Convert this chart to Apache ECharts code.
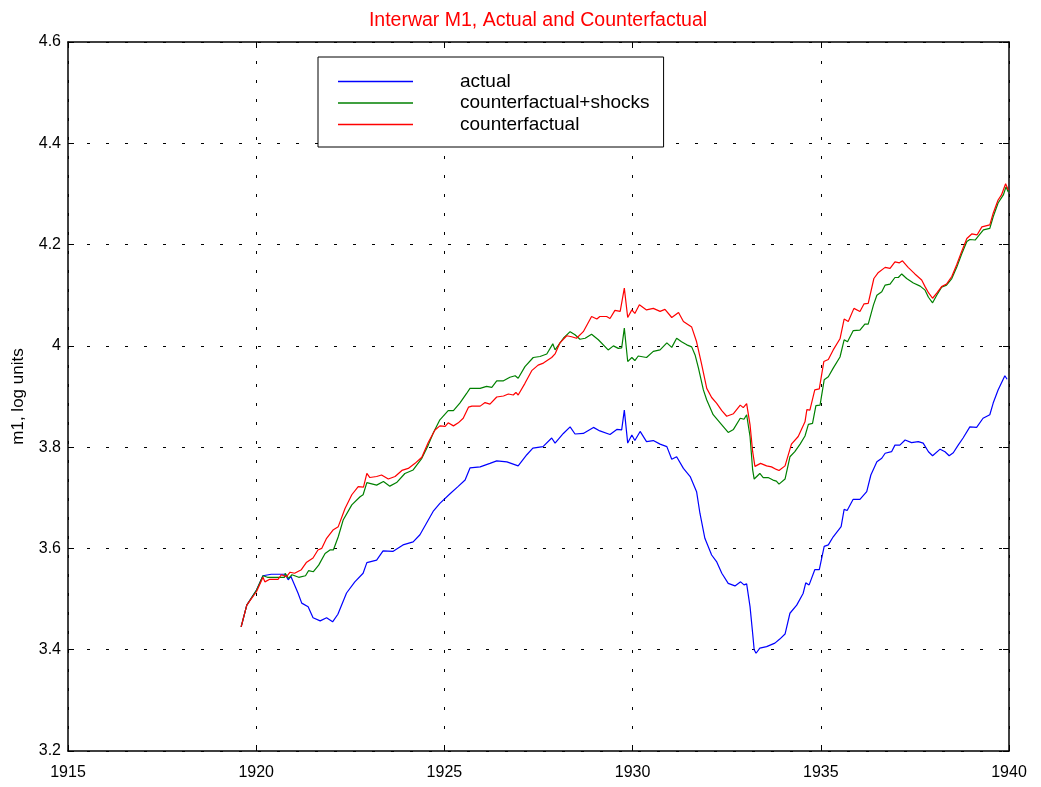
<!DOCTYPE html>
<html>
<head>
<meta charset="utf-8">
<title>Interwar M1</title>
<script src="https://cdn.jsdelivr.net/npm/echarts@6/dist/echarts.min.js"></script>
<style>
  html, body { margin: 0; padding: 0; background: #fff; }
  #chart { width: 1041px; height: 787px; }
</style>
</head>
<body>
<div id="chart"></div>
<script>
// values, [year, log m1]
var actual = [
	[1919.60, 3.445], [1919.75, 3.488], [1920.01, 3.518], [1920.18, 3.546], [1920.40, 3.549], [1920.77, 3.549],
	[1920.85, 3.538], [1920.92, 3.545], [1921.11, 3.512], [1921.21, 3.492], [1921.38, 3.485], [1921.51, 3.463],
	[1921.70, 3.457], [1921.87, 3.463], [1922.03, 3.455], [1922.17, 3.470], [1922.40, 3.512], [1922.62, 3.534],
	[1922.84, 3.551], [1922.94, 3.572], [1923.20, 3.577], [1923.37, 3.595], [1923.63, 3.594], [1923.90, 3.607],
	[1924.17, 3.613], [1924.35, 3.627], [1924.70, 3.673], [1924.88, 3.689], [1925.15, 3.708], [1925.36, 3.722],
	[1925.55, 3.735], [1925.68, 3.759], [1925.95, 3.761], [1926.21, 3.768], [1926.39, 3.773], [1926.66, 3.771],
	[1926.96, 3.763], [1927.19, 3.785], [1927.35, 3.798], [1927.62, 3.801], [1927.85, 3.818], [1927.94, 3.808],
	[1928.16, 3.827], [1928.34, 3.840], [1928.47, 3.826], [1928.69, 3.827], [1928.96, 3.839], [1929.13, 3.832],
	[1929.40, 3.825], [1929.58, 3.835], [1929.71, 3.834], [1929.78, 3.873], [1929.87, 3.808], [1929.98, 3.824],
	[1930.06, 3.813], [1930.20, 3.831], [1930.37, 3.811], [1930.55, 3.813], [1930.73, 3.806], [1930.91, 3.801],
	[1931.04, 3.776], [1931.17, 3.781], [1931.35, 3.758], [1931.53, 3.742], [1931.70, 3.712], [1931.79, 3.669],
	[1931.92, 3.620], [1932.10, 3.587], [1932.23, 3.574], [1932.37, 3.551], [1932.54, 3.531], [1932.72, 3.526],
	[1932.87, 3.534], [1932.96, 3.528], [1933.03, 3.530], [1933.12, 3.485], [1933.19, 3.432], [1933.23, 3.400],
	[1933.28, 3.393], [1933.38, 3.403], [1933.56, 3.406], [1933.78, 3.413], [1933.91, 3.421], [1934.05, 3.431],
	[1934.18, 3.472], [1934.36, 3.488], [1934.53, 3.511], [1934.60, 3.532], [1934.69, 3.528], [1934.84, 3.558],
	[1934.96, 3.558], [1935.09, 3.604], [1935.20, 3.607], [1935.33, 3.623], [1935.54, 3.643], [1935.62, 3.677],
	[1935.70, 3.675], [1935.86, 3.697], [1936.04, 3.697], [1936.22, 3.712], [1936.33, 3.745], [1936.49, 3.771],
	[1936.62, 3.778], [1936.71, 3.788], [1936.88, 3.791], [1936.97, 3.804], [1937.10, 3.804], [1937.24, 3.814],
	[1937.41, 3.809], [1937.59, 3.811], [1937.72, 3.808], [1937.86, 3.791], [1937.97, 3.783], [1938.17, 3.796],
	[1938.30, 3.791], [1938.41, 3.783], [1938.52, 3.789], [1938.65, 3.804], [1938.78, 3.818], [1938.96, 3.840],
	[1939.14, 3.839], [1939.31, 3.857], [1939.49, 3.864], [1939.58, 3.887], [1939.71, 3.913], [1939.89, 3.941],
	[1939.95, 3.934]
];

var cfShocks = [
	[1919.60, 3.445], [1919.75, 3.488], [1920.01, 3.518], [1920.18, 3.546], [1920.30, 3.543], [1920.75, 3.543],
	[1920.77, 3.551], [1920.86, 3.541], [1920.95, 3.548], [1921.13, 3.543], [1921.31, 3.546], [1921.39, 3.556],
	[1921.52, 3.554], [1921.66, 3.567], [1921.83, 3.590], [1921.96, 3.597], [1922.05, 3.597], [1922.18, 3.623],
	[1922.31, 3.656], [1922.54, 3.686], [1922.76, 3.702], [1922.84, 3.706], [1922.94, 3.730], [1923.20, 3.725],
	[1923.38, 3.732], [1923.55, 3.723], [1923.73, 3.730], [1923.95, 3.748], [1924.17, 3.755], [1924.40, 3.778],
	[1924.57, 3.804], [1924.71, 3.829], [1924.88, 3.854], [1925.10, 3.872], [1925.24, 3.872], [1925.41, 3.887],
	[1925.59, 3.906], [1925.68, 3.916], [1925.95, 3.916], [1926.12, 3.920], [1926.26, 3.918], [1926.39, 3.931],
	[1926.57, 3.931], [1926.74, 3.938], [1926.88, 3.941], [1926.96, 3.936], [1927.14, 3.959], [1927.36, 3.977],
	[1927.54, 3.979], [1927.72, 3.984], [1927.88, 4.004], [1927.94, 3.992], [1928.16, 4.015], [1928.34, 4.028],
	[1928.47, 4.022], [1928.60, 4.013], [1928.74, 4.015], [1928.91, 4.023], [1929.09, 4.012], [1929.35, 3.992],
	[1929.49, 4.000], [1929.62, 3.995], [1929.71, 3.996], [1929.78, 4.035], [1929.87, 3.969], [1929.98, 3.977],
	[1930.06, 3.971], [1930.15, 3.980], [1930.37, 3.977], [1930.55, 3.989], [1930.73, 3.992], [1930.91, 4.006],
	[1931.04, 3.997], [1931.17, 4.015], [1931.30, 4.008], [1931.44, 4.002], [1931.57, 3.998], [1931.66, 3.982],
	[1931.75, 3.956], [1931.88, 3.913], [1931.97, 3.893], [1932.14, 3.864], [1932.37, 3.844], [1932.54, 3.829],
	[1932.68, 3.835], [1932.86, 3.857], [1932.96, 3.855], [1933.03, 3.864], [1933.12, 3.821], [1933.19, 3.755],
	[1933.23, 3.737], [1933.28, 3.734], [1933.38, 3.748], [1933.47, 3.740], [1933.60, 3.740], [1933.73, 3.735],
	[1933.82, 3.733], [1933.89, 3.727], [1934.05, 3.737], [1934.18, 3.781], [1934.31, 3.791], [1934.45, 3.806],
	[1934.58, 3.822], [1934.67, 3.845], [1934.78, 3.847], [1934.87, 3.882], [1934.98, 3.883], [1935.09, 3.933],
	[1935.20, 3.939], [1935.33, 3.956], [1935.51, 3.978], [1935.62, 4.012], [1935.71, 4.008], [1935.86, 4.030],
	[1936.04, 4.031], [1936.17, 4.043], [1936.26, 4.043], [1936.40, 4.081], [1936.49, 4.100], [1936.62, 4.107],
	[1936.71, 4.120], [1936.84, 4.122], [1936.97, 4.135], [1937.06, 4.135], [1937.15, 4.142], [1937.28, 4.133],
	[1937.46, 4.124], [1937.64, 4.118], [1937.77, 4.110], [1937.86, 4.096], [1937.97, 4.085], [1938.08, 4.100],
	[1938.21, 4.116], [1938.34, 4.120], [1938.48, 4.133], [1938.61, 4.155], [1938.74, 4.181], [1938.88, 4.206],
	[1938.96, 4.210], [1939.10, 4.209], [1939.19, 4.217], [1939.32, 4.229], [1939.49, 4.232], [1939.58, 4.255],
	[1939.71, 4.282], [1939.85, 4.298], [1939.92, 4.314], [1939.98, 4.304]
];

var cf = [
	[1919.60, 3.445], [1919.75, 3.488], [1920.01, 3.515], [1920.18, 3.543], [1920.23, 3.534], [1920.36, 3.539],
	[1920.58, 3.539], [1920.67, 3.548], [1920.80, 3.544], [1920.90, 3.553], [1921.02, 3.551], [1921.20, 3.558],
	[1921.33, 3.572], [1921.51, 3.581], [1921.64, 3.597], [1921.74, 3.600], [1921.87, 3.620], [1922.05, 3.637],
	[1922.18, 3.643], [1922.36, 3.679], [1922.54, 3.706], [1922.71, 3.722], [1922.85, 3.721], [1922.94, 3.748],
	[1923.02, 3.740], [1923.20, 3.742], [1923.33, 3.745], [1923.51, 3.737], [1923.69, 3.742], [1923.87, 3.754],
	[1924.04, 3.758], [1924.22, 3.768], [1924.40, 3.780], [1924.57, 3.809], [1924.75, 3.834], [1924.88, 3.842],
	[1925.02, 3.841], [1925.10, 3.848], [1925.24, 3.842], [1925.37, 3.848], [1925.50, 3.857], [1925.64, 3.879],
	[1925.73, 3.881], [1925.95, 3.881], [1926.08, 3.888], [1926.21, 3.885], [1926.39, 3.899], [1926.57, 3.901],
	[1926.70, 3.905], [1926.83, 3.903], [1926.90, 3.908], [1926.96, 3.903], [1927.14, 3.926], [1927.32, 3.951],
	[1927.49, 3.962], [1927.63, 3.966], [1927.85, 3.977], [1927.94, 3.984], [1928.07, 4.006], [1928.25, 4.020],
	[1928.38, 4.018], [1928.51, 4.015], [1928.69, 4.028], [1928.91, 4.058], [1929.05, 4.053], [1929.13, 4.058],
	[1929.31, 4.058], [1929.40, 4.054], [1929.53, 4.070], [1929.67, 4.068], [1929.78, 4.114], [1929.87, 4.056],
	[1929.98, 4.071], [1930.06, 4.064], [1930.18, 4.081], [1930.37, 4.071], [1930.55, 4.074], [1930.73, 4.068],
	[1930.86, 4.072], [1931.04, 4.056], [1931.22, 4.066], [1931.35, 4.048], [1931.57, 4.037], [1931.70, 4.008],
	[1931.83, 3.965], [1931.97, 3.916], [1932.10, 3.898], [1932.23, 3.887], [1932.37, 3.872], [1932.50, 3.861],
	[1932.68, 3.866], [1932.86, 3.883], [1932.94, 3.878], [1933.03, 3.886], [1933.12, 3.844], [1933.19, 3.791],
	[1933.25, 3.762], [1933.30, 3.760], [1933.40, 3.768], [1933.56, 3.763], [1933.69, 3.761], [1933.82, 3.756],
	[1933.89, 3.754], [1934.05, 3.763], [1934.22, 3.806], [1934.40, 3.821], [1934.58, 3.850], [1934.63, 3.874],
	[1934.71, 3.873], [1934.84, 3.913], [1934.96, 3.915], [1935.08, 3.969], [1935.20, 3.973], [1935.33, 3.992],
	[1935.51, 4.014], [1935.62, 4.053], [1935.73, 4.048], [1935.88, 4.074], [1936.04, 4.068], [1936.15, 4.083],
	[1936.26, 4.084], [1936.41, 4.133], [1936.53, 4.145], [1936.71, 4.155], [1936.84, 4.153], [1936.97, 4.166],
	[1937.09, 4.164], [1937.17, 4.168], [1937.32, 4.155], [1937.50, 4.142], [1937.68, 4.130], [1937.77, 4.117],
	[1937.86, 4.105], [1937.97, 4.094], [1938.08, 4.104], [1938.21, 4.117], [1938.34, 4.122], [1938.48, 4.137],
	[1938.61, 4.160], [1938.74, 4.186], [1938.88, 4.212], [1939.01, 4.221], [1939.15, 4.219], [1939.28, 4.235],
	[1939.49, 4.239], [1939.58, 4.262], [1939.71, 4.288], [1939.80, 4.298], [1939.91, 4.320], [1939.98, 4.308]
];

var seriesNames = ["actual", "counterfactual+shocks", "counterfactual"];
var seriesColors = ["#0000ff", "#008000", "#ff0000"];

var xMin = 1915, xMax = 1940, xStep = 5;
var yMin = 3.2, yMax = 4.6, yStep = 0.2;

var FONT = "Liberation Sans";
var chart = echarts.init(document.getElementById("chart"), null, { renderer: "canvas" });

var gridDash = { color: "#000", width: 1, type: [3, 16] };

function frameAxis(extra) {
	return Object.assign({
		type: "value",
		axisLine: { show: true, onZero: false, lineStyle: { color: "#000", width: 1.5 } },
		axisTick: { show: true, inside: true, length: 6, lineStyle: { color: "#000" } },
		axisLabel: { show: false },
		splitLine: { show: false }
	}, extra);
}

var option = {
	animation: false,
	backgroundColor: "#fff",
	title: {
		text: "Interwar M1, Actual and Counterfactual",
		left: 533,
		textAlign: "center",
		top: 6,
		textStyle: { color: "#ff0000", fontSize: 19.5, fontWeight: "normal", fontFamily: FONT }
	},
	legend: {
		orient: "vertical",
		left: 318,
		top: 57,
		padding: [15, 14, 13, 20],
		itemWidth: 75,
		itemHeight: 1.4,
		itemGap: 2.5,
		icon: "rect",
		selectedMode: false,
		borderColor: "#000",
		borderWidth: 1,
		backgroundColor: "#fff",
		data: seriesNames,
		textStyle: { color: "#000", fontSize: 19, fontFamily: FONT, padding: [0, 0, 0, 42] }
	},
	grid: { left: 68, right: 32, top: 42, bottom: 36, containLabel: false, outerBoundsMode: "none" },
	xAxis: [
		frameAxis({
			min: xMin, max: xMax, interval: xStep,
			position: "bottom",
			axisLabel: {
				show: true, color: "#000", fontSize: 16, fontFamily: FONT, margin: 14,
				formatter: function (v) { return String(v); }
			},
			splitLine: { show: true, lineStyle: gridDash }
		}),
		frameAxis({ min: xMin, max: xMax, interval: xStep, position: "top" })
	],
	yAxis: [
		frameAxis({
			min: yMin, max: yMax, interval: yStep,
			position: "left",
			name: "m1, log units",
			nameLocation: "middle",
			nameGap: 41,
			nameTextStyle: { color: "#000", fontSize: 17, fontFamily: FONT },
			axisLabel: {
				show: true, color: "#000", fontSize: 16, fontFamily: FONT, margin: 7,
				formatter: function (v) { return String(+v.toFixed(1)); }
			},
			splitLine: { show: true, lineStyle: gridDash }
		}),
		frameAxis({ min: yMin, max: yMax, interval: yStep, position: "right" })
	],
	series: [actual, cfShocks, cf].map(function (d, i) {
		return {
			name: seriesNames[i],
			type: "line",
			data: d,
			symbol: "none",
			smooth: false,
			color: seriesColors[i],
			lineStyle: { color: seriesColors[i], width: 1.2 },
			z: 3 + i
		};
	})
};

chart.setOption(option);
</script>
</body>
</html>
